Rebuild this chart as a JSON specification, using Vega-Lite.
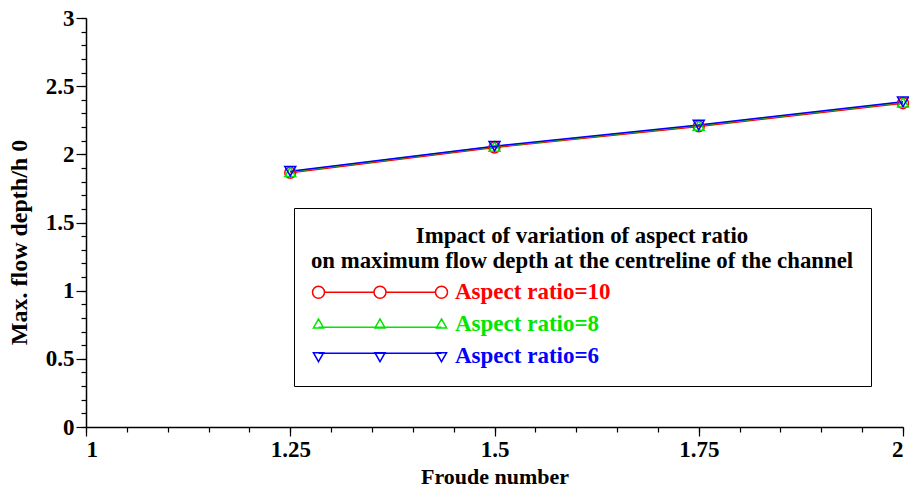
{
  "$schema": "https://vega.github.io/schema/vega-lite/v6.json",
  "width": 817,
  "height": 409,
  "autosize": {"type": "none"},
  "padding": {"left": 86, "top": 18, "right": 6, "bottom": 63},
  "background": "white",
  "config": {
    "view": {"stroke": null},
    "font": "Liberation Serif",
    "axis": {"labelFont": "Liberation Serif", "titleFont": "Liberation Serif", "labelFontWeight": "bold", "titleFontWeight": "bold", "labelColor": "black", "titleColor": "black", "domainColor": "black", "tickColor": "black", "grid": false}
  },
  "data": {
    "values": [
      {"fr": 1.25, "depth": 1.865, "series": "Aspect ratio=10", "ratio": 10},
      {"fr": 1.5, "depth": 2.05, "series": "Aspect ratio=10", "ratio": 10},
      {"fr": 1.75, "depth": 2.205, "series": "Aspect ratio=10", "ratio": 10},
      {"fr": 2.0, "depth": 2.375, "series": "Aspect ratio=10", "ratio": 10},
      {"fr": 1.25, "depth": 1.872, "series": "Aspect ratio=8", "ratio": 8},
      {"fr": 1.5, "depth": 2.057, "series": "Aspect ratio=8", "ratio": 8},
      {"fr": 1.75, "depth": 2.212, "series": "Aspect ratio=8", "ratio": 8},
      {"fr": 2.0, "depth": 2.382, "series": "Aspect ratio=8", "ratio": 8},
      {"fr": 1.25, "depth": 1.876, "series": "Aspect ratio=6", "ratio": 6},
      {"fr": 1.5, "depth": 2.06, "series": "Aspect ratio=6", "ratio": 6},
      {"fr": 1.75, "depth": 2.215, "series": "Aspect ratio=6", "ratio": 6},
      {"fr": 2.0, "depth": 2.385, "series": "Aspect ratio=6", "ratio": 6}
    ]
  },
  "resolve": {"axis": {"x": "independent", "y": "independent"}},
  "layer": [
    {
      "mark": {"type": "line", "strokeWidth": 1.5},
      "encoding": {
        "x": {"field": "fr", "type": "quantitative", "scale": {"domain": [1, 2], "nice": false, "zero": false},
          "axis": {"orient": "bottom", "values": [1, 1.25, 1.5, 1.75, 2], "labelExpr": "'' + datum.value", "title": "Froude number", "labelFontSize": 23, "titleFontSize": 22, "tickSize": 9, "domainWidth": 1.5, "tickWidth": 1.2, "labelPadding": 2, "titlePadding": 5, "zindex": 2}},
        "y": {"field": "depth", "type": "quantitative", "scale": {"domain": [0, 3], "nice": false},
          "axis": {"orient": "left", "values": [0, 0.5, 1, 1.5, 2, 2.5, 3], "labelExpr": "'' + datum.value", "title": "Max. flow depth/h 0", "labelFontSize": 23, "titleFontSize": 24, "titleY": 224, "tickSize": 10, "domainWidth": 1.5, "tickWidth": 1.2, "labelPadding": 2, "titlePadding": 14, "zindex": 2}},
        "color": {"field": "series", "type": "nominal",
          "scale": {"domain": ["Aspect ratio=10", "Aspect ratio=8", "Aspect ratio=6"], "range": ["#ff0000", "#00e600", "#0000ff"]},
          "legend": {
            "orient": "none", "legendX": 208, "legendY": 190,
            "title": ["Impact of variation of aspect ratio", "on maximum flow depth at the centreline of the channel"],
            "titleFont": "Liberation Serif", "titleFontSize": 22.8, "titleFontWeight": "bold", "titleColor": "black",
            "titleAnchor": "middle", "titleAlign": "center", "titleLineHeight": 25, "titlePadding": 8, "titleLimit": 1000,
            "labelFont": "Liberation Serif", "labelFontSize": 23, "labelFontWeight": "bold", "labelLimit": 400, "labelOffset": 125,
            "symbolSize": 144, "symbolOffset": -8, "rowPadding": 8,
            "padding": 17, "strokeColor": "black", "fillColor": "white",
            "encode": {
              "symbols": {"update": {
                "shape": {"signal": "datum.value === 'Aspect ratio=10' ? 'M-1,0A1,1,0,1,0,1,0A1,1,0,1,0,-1,0M1,0L9.25,0M9.25,0A1,1,0,1,0,11.25,0A1,1,0,1,0,9.25,0M11.25,0L19.5,0M19.5,0A1,1,0,1,0,21.5,0A1,1,0,1,0,19.5,0M88,0' : datum.value === 'Aspect ratio=8' ? 'M0,-0.9L0.85,0.6L-0.85,0.6ZM10.25,-0.9L11.1,0.6L9.4,0.6ZM20.5,-0.9L21.35,0.6L19.65,0.6ZM0,0.5L20.5,0.5M88,0' : 'M0,0.9L0.85,-0.6L-0.85,-0.6ZM10.25,0.9L11.1,-0.6L9.4,-0.6ZM20.5,0.9L21.35,-0.6L19.65,-0.6ZM0,-0.5L20.5,-0.5M88,0'"},
                "stroke": {"signal": "scale('color', datum.value)"},
                "fill": {"value": "transparent"},
                "strokeWidth": {"value": 1.5},
                "size": {"value": 144},
                "opacity": {"value": 1}
              }},
              "labels": {"update": {"fill": {"signal": "scale('color', datum.value)"}}}
            }
          }
        }
      }
    },
    {
      "mark": {"type": "point", "filled": false, "strokeWidth": 1.5, "size": 120, "opacity": 1},
      "encoding": {
        "x": {"field": "fr", "type": "quantitative", "axis": {"orient": "bottom", "values": [1, 1.05, 1.1, 1.15, 1.2, 1.25, 1.3, 1.35, 1.4, 1.45, 1.5, 1.55, 1.6, 1.65, 1.7, 1.75, 1.8, 1.85, 1.9, 1.95, 2], "labels": false, "domain": false, "tickSize": 5, "tickWidth": 1.2, "title": null, "zindex": 1}},
        "y": {"field": "depth", "type": "quantitative", "axis": {"orient": "left", "values": [0, 0.1, 0.2, 0.3, 0.4, 0.5, 0.6, 0.7, 0.8, 0.9, 1, 1.1, 1.2, 1.3, 1.4, 1.5, 1.6, 1.7, 1.8, 1.9, 2, 2.1, 2.2, 2.3, 2.4, 2.5, 2.6, 2.7, 2.8, 2.9, 3], "labels": false, "domain": false, "tickSize": 5, "tickWidth": 1.2, "title": null, "zindex": 1}},
        "stroke": {"field": "ratio", "type": "nominal",
          "scale": {"domain": [10, 8, 6], "range": ["#ff0000", "#00e600", "#0000ff"]},
          "legend": null},
        "shape": {"field": "ratio", "type": "nominal",
          "scale": {"domain": [10, 8, 6], "range": ["circle", "triangle-up", "triangle-down"]},
          "legend": null}
      }
    }
  ]
}
